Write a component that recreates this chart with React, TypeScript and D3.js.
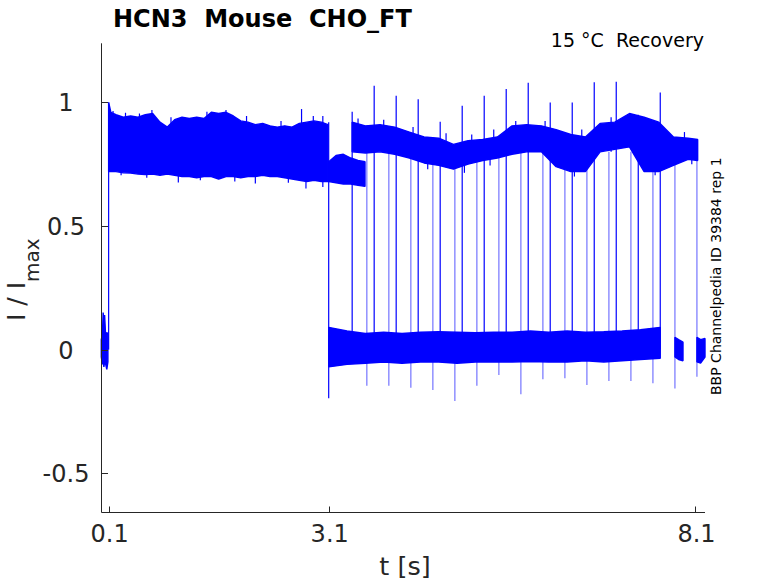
import React from "react";
import * as d3 from "d3";

// tick values
const xTicks = [0.1, 3.1, 8.1];
const yTicks = [-0.5, 0, 0.5, 1];

// holding current before the first pulse (envelope)
const preTimes = [0.0, 0.015, 0.025, 0.035, 0.045, 0.06, 0.075, 0.09];
const preUpper = [0.04, 0.06, 0.15, 0.12, 0.14, 0.05, 0.07, 0.06];
const preLower = [-0.03, -0.06, -0.04, -0.07, -0.05, -0.06, -0.08, -0.05];

// first pulse, all sweeps overlaid (envelope)
const p1Times = [0.1, 0.13, 0.2, 0.3, 0.4, 0.5, 0.6, 0.7, 0.8, 0.9, 1.0, 1.1, 1.2, 1.3, 1.4, 1.5,
  1.6, 1.7, 1.8, 1.9, 2.0, 2.1, 2.2, 2.3, 2.4, 2.5, 2.6, 2.7, 2.8, 2.9, 3.0, 3.09];
const p1Upper = [1.0, 0.96, 0.95, 0.94, 0.945, 0.94, 0.95, 0.955, 0.92, 0.9, 0.93, 0.94, 0.935, 0.94, 0.935, 0.96,
  0.955, 0.96, 0.945, 0.925, 0.92, 0.91, 0.915, 0.905, 0.9, 0.905, 0.9, 0.915, 0.92, 0.925, 0.92, 0.91];
const p1Lower = [0.72, 0.72, 0.72, 0.715, 0.714, 0.71, 0.708, 0.71, 0.705, 0.71, 0.705, 0.7, 0.7, 0.695, 0.7, 0.7,
  0.69, 0.7, 0.7, 0.695, 0.7, 0.7, 0.705, 0.7, 0.7, 0.695, 0.69, 0.685, 0.68, 0.685, 0.68, 0.68];
// single noise peaks poking out of the band
const p1SpikeTimes = [0.16, 0.33, 0.52, 0.69, 0.95, 1.44, 1.7, 1.98, 2.45, 2.73, 2.89, 3.02,
  0.27, 0.62, 1.05, 1.35, 1.82, 2.1, 2.55, 2.79, 3.02];
const p1SpikeValues = [0.965, 0.958, 0.955, 0.969, 0.94, 0.962, 0.969, 0.945, 0.925, 0.973, 0.945, 0.945,
  0.705, 0.695, 0.676, 0.685, 0.68, 0.672, 0.675, 0.652, 0.658];

// sweep that stays on after 3.1 s
const holdTimes = [3.1, 3.2, 3.3, 3.4, 3.5, 3.595];
const holdUpper = [0.76, 0.785, 0.79, 0.775, 0.765, 0.76];
const holdLower = [0.68, 0.675, 0.67, 0.67, 0.665, 0.66];

// interval at zero current
const zeroTimes = [3.1, 3.35, 3.6, 3.85, 4.1, 4.35, 4.6, 4.85, 5.1, 5.35, 5.6, 5.85, 6.1, 6.35, 6.6, 6.85, 7.1, 7.35, 7.62];
const zeroUpper = [0.09, 0.075, 0.065, 0.07, 0.065, 0.07, 0.072, 0.07, 0.068, 0.07, 0.07, 0.075, 0.07, 0.075, 0.07, 0.072, 0.075, 0.08, 0.09];
const zeroLower = [-0.07, -0.06, -0.055, -0.05, -0.055, -0.05, -0.05, -0.055, -0.05, -0.05, -0.05, -0.048, -0.05, -0.05, -0.045, -0.05, -0.045, -0.04, -0.035];

// second pulse, all sweeps overlaid
const p2Times = [3.42, 3.6, 3.8, 4.0, 4.2, 4.4, 4.6, 4.8, 5.0, 5.2, 5.4, 5.6, 5.8, 6.0, 6.2, 6.4, 6.6, 6.8, 7.0, 7.2, 7.4, 7.6, 7.8, 8.0, 8.13];
const p2Upper = [0.92, 0.905, 0.91, 0.9, 0.88, 0.86, 0.855, 0.83, 0.845, 0.85, 0.86, 0.905, 0.91, 0.905, 0.89, 0.87, 0.86, 0.915, 0.92, 0.955, 0.94, 0.92, 0.86, 0.855, 0.85];
const p2Lower = [0.8, 0.795, 0.8, 0.79, 0.775, 0.755, 0.745, 0.73, 0.75, 0.765, 0.775, 0.79, 0.8, 0.8, 0.74, 0.72, 0.72, 0.8, 0.81, 0.82, 0.72, 0.72, 0.745, 0.77, 0.765];
const p2SpikeTimes = [3.5, 3.85, 4.25, 4.7, 5.05, 5.35, 5.65, 6.05, 6.55, 6.95, 7.45, 7.95, 4.45, 4.95, 5.3, 6.45, 7.55, 8.05];
const p2SpikeValues = [0.935, 0.93, 0.9, 0.875, 0.87, 0.89, 0.925, 0.925, 0.89, 0.94, 0.93, 0.88, 0.73, 0.715, 0.745, 0.7, 0.705, 0.75];

// short zero pieces at the end of the last sweeps
const tail1Times = [7.82, 7.87, 7.93];
const tail1Upper = [0.05, 0.04, 0.03];
const tail1Lower = [-0.03, -0.04, -0.045];
const tail2Times = [8.12, 8.17, 8.23];
const tail2Upper = [0.05, 0.04, 0.045];
const tail2Lower = [-0.05, -0.055, -0.03];

// pulse on / off transitions
const stepTimes = [0.1, 3.1];
const stepFrom = [0.0, 0.92];
const stepTo = [1.0, -0.197];

// second pulse onsets (with capacitive peak)
const upTimes = [3.42, 3.72, 4.02, 4.32, 4.62, 4.92, 5.22, 5.52, 5.82, 6.12, 6.42, 6.72, 7.02, 7.32, 7.62];
const upPeaks = [0.962, 1.067, 1.027, 1.013, 0.922, 0.986, 1.027, 1.054, 1.079, 1.0, 1.0, 1.081, 1.083, 0.95, 1.04];

// second pulse offsets (with negative peak)
const downTimes = [3.62, 3.92, 4.22, 4.52, 4.82, 5.12, 5.42, 5.72, 6.02, 6.32, 6.62, 6.92, 7.22, 7.52, 7.82, 8.12];
const downTroughs = [-0.146, -0.146, -0.154, -0.163, -0.208, -0.146, -0.103, -0.181, -0.12, -0.116, -0.143, -0.127, -0.127, -0.136, -0.157, -0.11];
const downTop = 0.8;

const W = 778;
const H = 583;
const blue = "#0000ff";
const axisColor = "#262626";
const font = "DejaVu Sans, sans-serif";

const x = d3.scaleLinear().domain([0, 8.23]).range([101.3, 705]);
const y = d3.scaleLinear().domain([-0.657, 1.239]).range([512, 43.3]);

type Pt = { t: number; hi: number; lo: number };
const area = d3
  .area<Pt>()
  .x((d) => x(d.t))
  .y0((d) => y(d.lo))
  .y1((d) => y(d.hi));

function band(ts: number[], up: number[], lo: number[]) {
  return area(ts.map((t, i) => ({ t, hi: up[i], lo: lo[i] }))) || "";
}

const pre = { whiteSpace: "pre" as const };

const App = () => {
  const bands = [
    band(preTimes, preUpper, preLower),
    band(p1Times, p1Upper, p1Lower),
    band(holdTimes, holdUpper, holdLower),
    band(zeroTimes, zeroUpper, zeroLower),
    band(p2Times, p2Upper, p2Lower),
    band(tail1Times, tail1Upper, tail1Lower),
    band(tail2Times, tail2Upper, tail2Lower),
  ];
  const x0 = 101.5;
  const y0 = 512.5;

  return (
    <svg width={W} height={H} style={{ position: "absolute", left: 0, top: 0, display: "block" }} fontFamily={font}>
      <rect width={W} height={H} fill="#fff" />

      {/* traces */}
      {bands.map((d, i) => (
        <path key={"b" + i} d={d} fill={blue} stroke={blue} strokeWidth={1.4} strokeLinejoin="bevel" />
      ))}
      {p1SpikeTimes.map((t, i) => (
        <line key={"s" + i} x1={x(t)} x2={x(t)} y1={y(0.8)} y2={y(p1SpikeValues[i])} stroke={blue} strokeWidth={1.2} />
      ))}
      {p2SpikeTimes.map((t, i) => (
        <line key={"s2" + i} x1={x(t)} x2={x(t)} y1={y(0.8)} y2={y(p2SpikeValues[i])} stroke={blue} strokeWidth={1.2} />
      ))}
      {stepTimes.map((t, i) => (
        <line key={"st" + i} x1={x(t)} x2={x(t)} y1={y(stepFrom[i])} y2={y(stepTo[i])} stroke={blue} strokeWidth={1.2} />
      ))}
      {downTimes.map((t, i) => (
        <line key={"d" + i} x1={x(t)} x2={x(t)} y1={y(downTop)} y2={y(downTroughs[i])} stroke={blue} strokeOpacity={0.55} strokeWidth={1.2} />
      ))}
      {upTimes.map((t, i) => (
        <line key={"u" + i} x1={x(t)} x2={x(t)} y1={y(0)} y2={y(upPeaks[i])} stroke={blue} strokeWidth={1.2} />
      ))}

      {/* axes */}
      <line x1={x0} x2={x0} y1={43.3} y2={y0} stroke={axisColor} strokeWidth={1} />
      <line x1={x0} x2={705} y1={y0} y2={y0} stroke={axisColor} strokeWidth={1} />
      {yTicks.map((v) => (
        <g key={"yt" + v}>
          <line x1={x0} x2={x0 + 6.5} y1={Math.round(y(v)) + 0.5} y2={Math.round(y(v)) + 0.5} stroke={axisColor} />
          <text x={66} y={y(v) + 9} textAnchor="middle" fontSize={24} fill={axisColor}>
            {v < 0 ? "-" + Math.abs(v) : String(v)}
          </text>
        </g>
      ))}
      {xTicks.map((v) => (
        <g key={"xt" + v}>
          <line x1={Math.round(x(v)) + 0.5} x2={Math.round(x(v)) + 0.5} y1={y0} y2={y0 - 6} stroke={axisColor} />
          <text x={x(v) + 1} y={541.5} textAnchor="middle" fontSize={24} fill={axisColor}>
            {String(v)}
          </text>
        </g>
      ))}

      {/* labels */}
      <text x={405} y={575} textAnchor="middle" fontSize={25.5} fill={axisColor}>
        t [s]
      </text>
      <text transform="translate(25,321) rotate(-90)" fontSize={25} fill={axisColor} style={pre}>
        {"I / I"}
        <tspan fontSize={20} dy={14}>max</tspan>
      </text>
      <text x={113} y={27} fontSize={24} fontWeight="bold" fill="#000" style={pre}>
        {"HCN3  Mouse  CHO_FT"}
      </text>
      <text x={704} y={47} textAnchor="end" fontSize={19} fill="#000" style={pre}>
        {"15 °C  Recovery"}
      </text>
      <text transform="translate(720.5,395) rotate(-90)" fontSize={14} fill="#000">
        BBP Channelpedia ID 39384 rep 1
      </text>
    </svg>
  );
};

export default App;
